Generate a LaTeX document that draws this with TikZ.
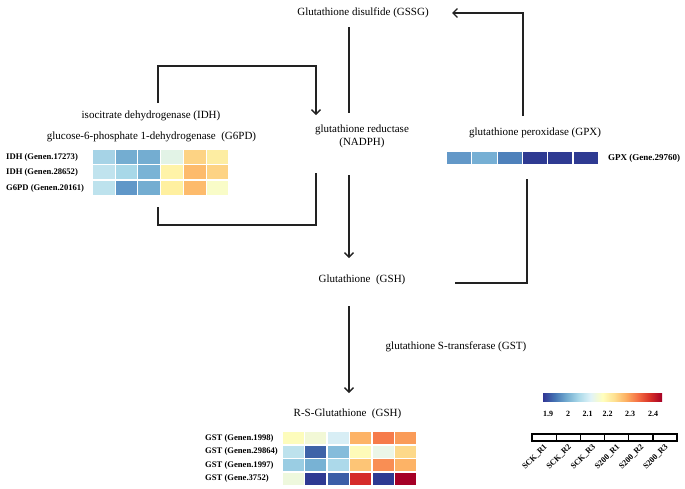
\documentclass[tikz,border=0pt]{standalone}
\usepackage{fontspec}
\setmainfont{Liberation Serif}
\usetikzlibrary{arrows.meta}
\definecolor{hA}{HTML}{A6D3E6}\definecolor{hB}{HTML}{74ADD1}\definecolor{hC}{HTML}{E2F3E6}
\definecolor{hD}{HTML}{FDD384}\definecolor{hE}{HTML}{FDEDA2}\definecolor{hF}{HTML}{C0E3EE}
\definecolor{hG}{HTML}{A8D8E8}\definecolor{hH}{HTML}{7AB3D5}\definecolor{hI}{HTML}{FFF3A8}
\definecolor{hJ}{HTML}{FDBB6C}\definecolor{hK}{HTML}{BDE2ED}\definecolor{hL}{HTML}{6097C8}
\definecolor{hM}{HTML}{FFF0A0}\definecolor{hN}{HTML}{F9FCC8}\definecolor{hO}{HTML}{6398C8}
\definecolor{hP}{HTML}{76AFD4}\definecolor{hQ}{HTML}{4E81BB}\definecolor{hR}{HTML}{2E3A92}
\definecolor{hS}{HTML}{FDFCBC}\definecolor{hT}{HTML}{F2F8D6}\definecolor{hU}{HTML}{D8EEF5}
\definecolor{hV}{HTML}{FDB366}\definecolor{hW}{HTML}{F67B4A}\definecolor{hX}{HTML}{FA9B58}
\definecolor{hY}{HTML}{3E63A8}\definecolor{hZ}{HTML}{85BCDB}\definecolor{ha}{HTML}{FEFBB9}
\definecolor{hb}{HTML}{EBF6E8}\definecolor{hc}{HTML}{FDD98A}\definecolor{hd}{HTML}{9ACDE3}
\definecolor{he}{HTML}{78B2D4}\definecolor{hf}{HTML}{ACD9EA}\definecolor{hg}{HTML}{FDC576}
\definecolor{hh}{HTML}{F98E54}\definecolor{hi}{HTML}{EEF8DD}\definecolor{hj}{HTML}{3B5EA7}
\definecolor{hk}{HTML}{D52B2A}\definecolor{hl}{HTML}{A50026}
\definecolor{s1}{HTML}{313695}\definecolor{s2}{HTML}{4575B4}\definecolor{s3}{HTML}{74ADD1}
\definecolor{s4}{HTML}{ABD9E9}\definecolor{s5}{HTML}{E0F3F8}\definecolor{s6}{HTML}{FFFFBF}
\definecolor{s7}{HTML}{FEE090}\definecolor{s8}{HTML}{FDAE61}\definecolor{s9}{HTML}{F46D43}
\definecolor{s10}{HTML}{D73027}\definecolor{s11}{HTML}{A50026}
\definecolor{linec}{HTML}{222222}
\pgfdeclarehorizontalshading{rdylbu}{100bp}{color(0bp)=(s1); color(25bp)=(s1); color(30bp)=(s2);
 color(35bp)=(s3); color(40bp)=(s4); color(45bp)=(s5); color(50bp)=(s6); color(55bp)=(s7);
 color(60bp)=(s8); color(65bp)=(s9); color(70bp)=(s10); color(75bp)=(s11); color(100bp)=(s11)}
\newcommand\hmrow[6]{\foreach \cc [count=\ii from 0] in {#6} {\fill[\cc] ({#1+\ii*#3},#2) rectangle ++(#4,#5);}}
\begin{document}
\begin{tikzpicture}[x=1pt,y=-1pt,
  lbl/.style={inner sep=0pt,font=\fontsize{11}{13}\selectfont},
  gene/.style={inner sep=0pt,anchor=west,font=\fontsize{8.6}{10}\selectfont\bfseries},
  tick/.style={inner sep=0pt,font=\fontsize{8}{10}\selectfont\bfseries},
  samp/.style={inner sep=0pt,anchor=east,rotate=45,font=\fontsize{8.2}{10}\selectfont\bfseries},
  conn/.style={line width=1.6pt,color=linec},
  arr/.style={conn,-{Straight Barb[length=4.5pt,width=9pt,line width=1.4pt]}}]
\useasboundingbox (0,0) rectangle (685,488);
% text nodes
\node[lbl] (gssg) at (363,13) {Glutathione disulfide (GSSG)};
\node[lbl] (idh) at (151,116) {isocitrate dehydrogenase (IDH)};
\node[lbl] (g6pd) at (151.5,137) {glucose-6-phosphate 1-dehydrogenase\ \ (G6PD)};
\node[lbl,align=center] (gr) at (362,136) {glutathione reductase\\(NADPH)};
\node[lbl] (gpx) at (535,133) {glutathione peroxidase (GPX)};
\node[lbl] (gsh) at (362,280) {Glutathione\ \ (GSH)};
\node[lbl] (gst) at (456,347) {glutathione S-transferase (GST)};
\node[lbl] (rsg) at (347.5,414) {R-S-Glutathione\ \ (GSH)};
% gene labels
\node[gene] (l1) at (6,157) {IDH (Genen.17273)};
\node[gene] (l2) at (6,172.5) {IDH (Genen.28652)};
\node[gene] (l3) at (6,188) {G6PD (Genen.20161)};
\node[gene,font=\fontsize{9}{10}\selectfont\bfseries] (l4) at (608,158) {GPX (Gene.29760)};
\node[gene] (l5) at (205,438) {GST (Genen.1998)};
\node[gene] (l6) at (205,451.5) {GST (Genen.29864)};
\node[gene] (l7) at (205,465) {GST (Genen.1997)};
\node[gene] (l8) at (205,478.5) {GST (Gene.3752)};
% heatmaps
\hmrow{93}{150}{22.7}{21.7}{13.8}{hA,hB,hB,hC,hD,hE}
\hmrow{93}{165.4}{22.7}{21.7}{13.8}{hF,hG,hH,hI,hJ,hD}
\hmrow{93}{180.8}{22.7}{21.7}{13.8}{hK,hL,hB,hM,hJ,hN}
\hmrow{447}{151.7}{25.3}{24.2}{12.3}{hO,hP,hQ,hR,hR,hR}
\hmrow{283}{432}{22.4}{21}{12}{hS,hT,hU,hV,hW,hX}
\hmrow{283}{445.5}{22.4}{21}{12}{hK,hY,hZ,ha,hb,hc}
\hmrow{283}{459}{22.4}{21}{12}{hd,he,hf,hg,hh,hV}
\hmrow{283}{472.5}{22.4}{21}{12}{hi,hR,hj,hk,hR,hl}
% connector coordinates
\coordinate (gpxup) at (523,116);
\coordinate (gpxcorner) at (523,13);
\coordinate (gssgin) at (452,13);
\coordinate (gssgdown) at (349,27);
\coordinate (grtop) at (349,113);
\coordinate (idhtop) at (158,103);
\coordinate (nadin) at (316,115);
\coordinate (hmbot) at (158,207);
\coordinate (nadout) at (316,173);
\coordinate (grbot) at (349,175);
\coordinate (gshtop) at (349,258);
\coordinate (gshright) at (455,283);
\coordinate (gpxdown) at (527,179);
\coordinate (gshbot) at (349,306);
\coordinate (rstop) at (349,393);
% connectors
\draw[arr] (gpxup) -- (gpxcorner) -- (gssgin);
\draw[conn] (gssgdown) -- (grtop);
\draw[arr] (idhtop) |- (316,66) -- (nadin);
\draw[conn] (hmbot) |- (316,225) -- (nadout);
\draw[arr] (grbot) -- (gshtop);
\draw[conn] (gshright) -| (gpxdown);
\draw[arr] (gshbot) -- (rstop);
% colour bar
\shade[shading=rdylbu] (543,393) rectangle (662,401);
\node[tick] (t1) at (548,414) {1.9};
\node[tick] (t2) at (568,414) {2};
\node[tick] (t3) at (587.5,414) {2.1};
\node[tick] (t4) at (607.5,414) {2.2};
\node[tick] (t5) at (630,414) {2.3};
\node[tick] (t6) at (653,414) {2.4};
% sample boxes
\foreach \k [count=\j from 0] in {SCK\_R1,SCK\_R2,SCK\_R3,S200\_R1,S200\_R2,S200\_R3} {
  \draw[line width=1.3pt] ({532+\j*24.17},434) rectangle ++(24.17,7);
  \node[samp] (sm\j) at ({546+\j*24.17},446) {\k};
}
\end{tikzpicture}
\end{document}
